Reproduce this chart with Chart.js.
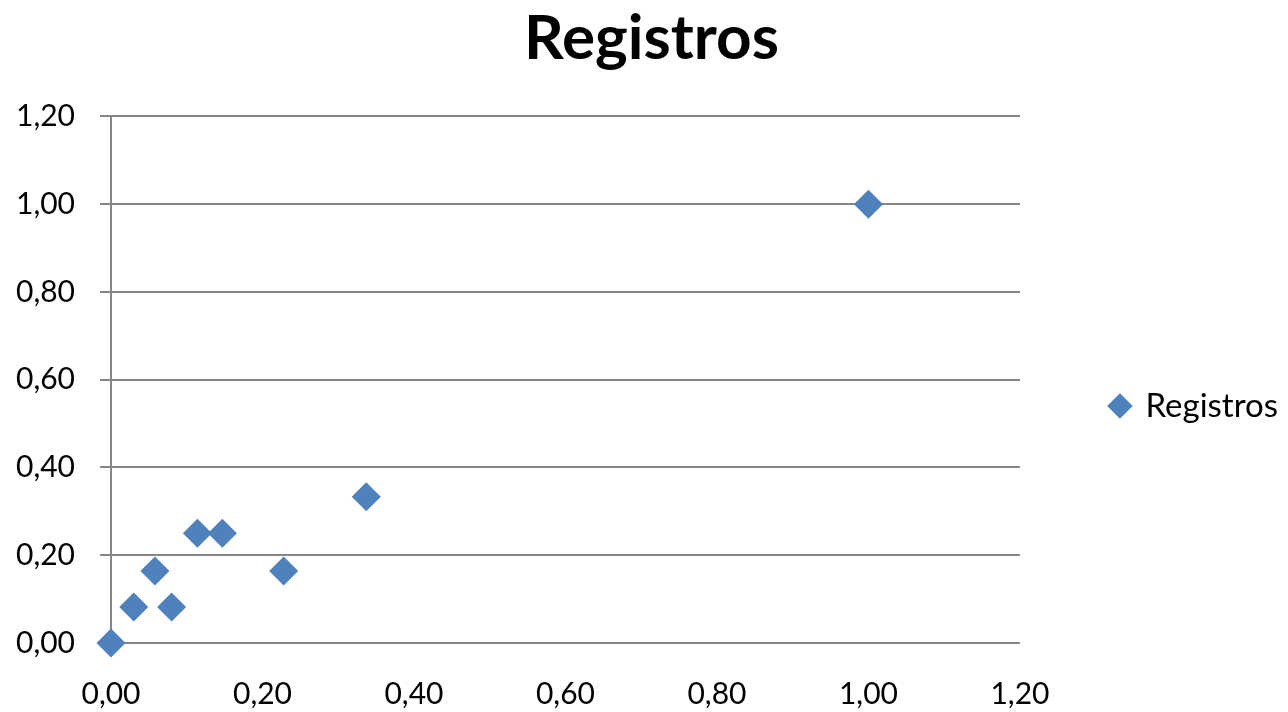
<!DOCTYPE html>
<html>
<head>
<meta charset="utf-8">
<script src="https://cdn.jsdelivr.net/npm/chart.js@4.4.1/dist/chart.umd.min.js"></script>
<style>
html,body{margin:0;padding:0;background:#fff;}
#wrap{width:1288px;height:712px;}
</style>
</head>
<body>
<div id="wrap"><canvas id="c" width="1288" height="712"></canvas></div>
<script>
const seriesName = "Registros";
const xValues = [0.00, 0.03, 0.058, 0.08, 0.114, 0.147, 0.228, 0.337, 1.00];
const yValues = [0.00, 0.082, 0.164, 0.082, 0.25, 0.25, 0.164, 0.333, 1.00];
const chartTitle = "Registros";

const points = xValues.map((x, i) => ({x: x, y: yValues[i]}));
const fmt = v => v.toFixed(2).replace('.', ',');
const FONT = "Lato, 'Open Sans', sans-serif";
const gridColor = '#868686';

new Chart(document.getElementById('c'), {
  type: 'scatter',
  data: {
    datasets: [{
      label: seriesName,
      data: points,
      pointStyle: 'rectRot',
      pointRadius: 14.5,
      pointHoverRadius: 14.5,
      backgroundColor: '#4F81BD',
      borderColor: '#4F81BD',
      borderWidth: 0,
      clip: false
    }]
  },
  options: {
    responsive: false,
    animation: false,
    layout: {padding: {left: 15, right: 0, top: 0, bottom: 0}},
    plugins: {
      title: {
        display: true,
        text: chartTitle,
        color: '#000',
        font: {family: FONT, size: 62, weight: 'bold'},
        padding: {top: 2, bottom: 40}
      },
      legend: {
        position: 'right',
        title: {display: true, text: ' ', font: {size: 10}, padding: {top: 0, bottom: 88}},
        labels: {
          usePointStyle: true,
          pointStyle: 'rectRot',
          boxWidth: 18,
          boxHeight: 18,
          color: '#000',
          padding: 10,
          font: {family: FONT, size: 33}
        }
      },
      tooltip: {enabled: false}
    },
    scales: {
      x: {
        type: 'linear',
        min: 0, max: 1.2,
        ticks: {stepSize: 0.2, callback: v => fmt(v), color: '#000', font: {family: FONT, size: 30}, padding: 21},
        grid: {display: false, drawOnChartArea: false, drawTicks: true, tickLength: 12, color: gridColor},
        border: {display: true, color: gridColor, width: 2},
        afterFit: s => { s.height = 69; }
      },
      y: {
        type: 'linear',
        min: 0, max: 1.2,
        ticks: {stepSize: 0.2, callback: v => fmt(v), color: '#000', font: {family: FONT, size: 30}, padding: 25},
        grid: {display: true, color: gridColor, lineWidth: 2, tickLength: 11},
        border: {display: true, color: gridColor, width: 2},
        afterFit: s => { s.width = 96; }
      },
      gap: {
        type: 'linear',
        position: 'right',
        display: true,
        ticks: {display: false},
        grid: {display: false},
        border: {display: false},
        afterFit: s => { s.width = 81; }
      }
    }
  }
});
</script>
</body>
</html>
